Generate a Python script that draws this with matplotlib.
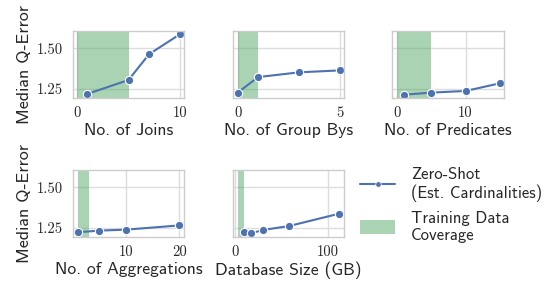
import matplotlib
matplotlib.use("Agg")
import matplotlib.pyplot as plt
import seaborn as sns
from matplotlib.lines import Line2D
from matplotlib.patches import Patch

# data
joins_x = [1, 5, 7, 10]
joins_y = [1.220, 1.305, 1.463, 1.585]
groupby_x = [0, 1, 3, 5]
groupby_y = [1.228, 1.323, 1.352, 1.364]
pred_x = [1, 5, 10, 15]
pred_y = [1.215, 1.228, 1.238, 1.285]
agg_x = [1, 5, 10, 20]
agg_y = [1.224, 1.234, 1.240, 1.266]
db_x = [10, 17, 30, 58, 112]
db_y = [1.223, 1.217, 1.238, 1.262, 1.338]

coverage = {"joins": (0, 5), "groupby": (0, 1), "pred": (0, 5), "agg": (1, 3), "db": (3, 10)}
xlabels = ["No. of Joins", "No. of Group Bys", "No. of Predicates",
           "No. of Aggregations", "Database Size (GB)"]
xticks = [[0, 10], [0, 5], [0, 10], [10, 20], [0, 100]]
xlims = [(-0.4, 10.4), (-0.23, 5.2), (-0.73, 15.6), (0.1, 20.85), (-2.1, 117)]
yticks = [1.25, 1.50]

sns.set_theme(style="whitegrid")
plt.rcParams["axes.formatter.use_mathtext"] = True

blue = "#4C72B0"
green = "#55A868"
label_font = "cmss10"
tick_font = "cmr10"

fig = plt.figure(figsize=(5.46, 2.86), dpi=100)
W, H = 546, 286

def box(l, t, r, b):
    return [l / W, 1 - b / H, (r - l) / W, (b - t) / H]

rects = [box(73, 31, 184, 98), box(233, 31, 344, 98), box(392, 31, 504, 98),
         box(73, 170, 184, 237), box(233, 170, 344, 237)]
series = [(joins_x, joins_y, "joins"), (groupby_x, groupby_y, "groupby"),
          (pred_x, pred_y, "pred"), (agg_x, agg_y, "agg"), (db_x, db_y, "db")]

for i, (rect, (xs, ys, key)) in enumerate(zip(rects, series)):
    ax = fig.add_axes(rect)
    ax.axvspan(*coverage[key], color=green, alpha=0.5, lw=0)
    ax.plot(xs, ys, color=blue, marker="o", markersize=6,
            markeredgecolor="white", markeredgewidth=0.8, lw=1.5)
    ax.set_xlim(*xlims[i])
    ax.set_ylim(1.195, 1.605)
    ax.set_xticks(xticks[i])
    ax.set_yticks(yticks)
    ax.set_xticklabels([str(t) for t in xticks[i]], fontfamily=tick_font, fontsize=10.5)
    if i in (0, 3):
        ax.set_yticklabels(["1.25", "1.50"], fontfamily=tick_font, fontsize=10.5)
        ax.set_ylabel("Median Q-Error", fontfamily=label_font, fontsize=13, labelpad=4)
    else:
        ax.set_yticklabels([])
    ax.set_xlabel(xlabels[i], fontfamily=label_font, fontsize=12.7, labelpad=2)
    ax.tick_params(axis="x", pad=6, length=0)
    ax.tick_params(axis="y", pad=7, length=0)
    for s in ax.spines.values():
        s.set_color("#cccccc")
        s.set_linewidth(1)
    ax.grid(color="#dddddd", lw=1)

handles = [Line2D([], [], color=blue, marker="o", markersize=4, lw=1.5,
                  markeredgecolor="white", markeredgewidth=0.5),
           Patch(facecolor=green, alpha=0.5, lw=0)]
fig.legend(handles, ["Zero-Shot\n(Est. Cardinalities)", "Training Data\nCoverage"],
           loc="upper left", bbox_to_anchor=(360 / W, 1 - 167 / H), frameon=False,
           prop={"family": label_font, "size": 12}, handlelength=2.1, handleheight=0.9,
           handletextpad=0.95, labelspacing=0.5, borderaxespad=0, borderpad=0)

fig.savefig("out.png", dpi=100)
